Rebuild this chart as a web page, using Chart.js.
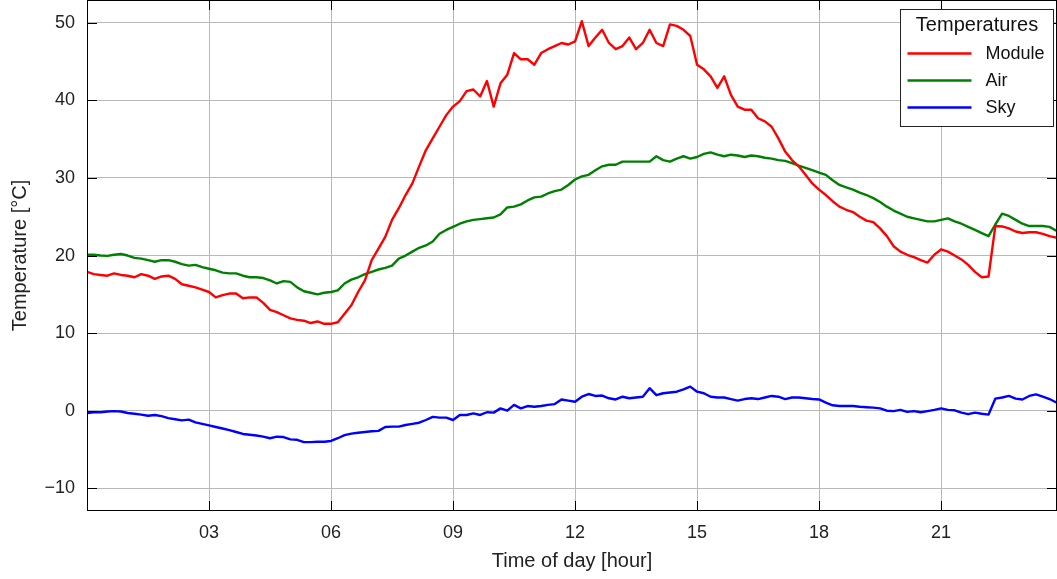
<!DOCTYPE html>
<html>
<head>
<meta charset="utf-8">
<title>Temperatures</title>
<script src="https://cdn.jsdelivr.net/npm/chart.js@4.4.1/dist/chart.umd.min.js"></script>
<style>
html, body { margin: 0; padding: 0; background: #fff; }
</style>
</head>
<body>
<canvas id="tempChart" width="1057" height="579"></canvas>
<script>

// readings every 10 minutes, 00:00 .. 23:50
const moduleTemp = [
17.9, 17.6, 17.5, 17.4, 17.7, 17.5,
17.4, 17.2, 17.6, 17.4, 17.0, 17.3,
17.4, 17.0, 16.3, 16.1, 15.9, 15.6,
15.3, 14.6, 14.9, 15.1, 15.1, 14.5,
14.6, 14.6, 13.9, 13.0, 12.7, 12.3,
11.9, 11.7, 11.6, 11.3, 11.5, 11.2,
11.2, 11.4, 12.5, 13.6, 15.3, 16.8,
19.4, 20.9, 22.4, 24.6, 26.1, 27.8,
29.3, 31.5, 33.6, 35.1, 36.6, 38.1,
39.2, 39.9, 41.2, 41.4, 40.5, 42.5,
39.2, 42.2, 43.3, 46.1, 45.3, 45.3,
44.6, 46.1, 46.6, 47.0, 47.4, 47.2,
47.6, 50.2, 47.0, 48.1, 49.1, 47.4,
46.6, 47.0, 48.1, 46.6, 47.4, 49.1,
47.4, 47.0, 49.8, 49.6, 49.1, 48.3,
44.6, 44.0, 43.1, 41.6, 43.1, 40.7,
39.2, 38.8, 38.8, 37.7, 37.3, 36.6,
35.1, 33.4, 32.3, 31.5, 30.4, 29.3,
28.5, 27.8, 27.0, 26.3, 25.9, 25.6,
25.0, 24.5, 24.3, 23.5, 22.5, 21.2,
20.5, 20.1, 19.8, 19.4, 19.1, 20.1,
20.8, 20.5, 20.0, 19.5, 18.8, 17.9,
17.2, 17.3, 23.8, 23.75, 23.5, 23.1,
22.9, 23.0, 23.0, 22.8, 22.5, 22.3
];

const airTemp = [
20.1, 20.1, 20.0, 19.95, 20.1, 20.2,
20.0, 19.7, 19.6, 19.4, 19.2, 19.4,
19.4, 19.2, 18.9, 18.7, 18.8, 18.5,
18.3, 18.1, 17.8, 17.7, 17.7, 17.4,
17.2, 17.2, 17.1, 16.8, 16.4, 16.7,
16.6, 15.9, 15.4, 15.2, 15.0, 15.2,
15.3, 15.5, 16.4, 16.9, 17.2, 17.6,
17.9, 18.2, 18.4, 18.7, 19.6, 20.0,
20.5, 21.0, 21.3, 21.8, 22.8, 23.3,
23.7, 24.1, 24.4, 24.6, 24.7, 24.8,
24.9, 25.3, 26.2, 26.3, 26.6, 27.1,
27.5, 27.6, 28.0, 28.3, 28.5, 29.1,
29.8, 30.2, 30.4, 31.0, 31.5, 31.7,
31.7, 32.1, 32.1, 32.1, 32.1, 32.1,
32.8, 32.3, 32.1, 32.5, 32.8, 32.5,
32.7, 33.1, 33.3, 33.0, 32.8, 33.0,
32.9, 32.7, 32.9, 32.8, 32.6, 32.5,
32.3, 32.2, 31.9, 31.6, 31.3, 31.0,
30.7, 30.4, 29.7, 29.1, 28.8, 28.5,
28.1, 27.8, 27.4, 26.9, 26.3, 25.8,
25.4, 25.0, 24.8, 24.6, 24.4, 24.4,
24.6, 24.8, 24.4, 24.1, 23.7, 23.3,
22.9, 22.5, 24.0, 25.4, 25.1, 24.6,
24.1, 23.8, 23.8, 23.8, 23.7, 23.2
];

const skyTemp = [
-0.3, -0.2, -0.2, -0.1, -0.05, -0.1,
-0.3, -0.4, -0.5, -0.65, -0.55, -0.7,
-0.95, -1.1, -1.25, -1.15, -1.5, -1.7,
-1.9, -2.1, -2.3, -2.5, -2.75, -3.0,
-3.1, -3.2, -3.35, -3.55, -3.35, -3.4,
-3.7, -3.75, -4.05, -4.05, -4.0, -4.0,
-3.9, -3.55, -3.15, -2.95, -2.85, -2.75,
-2.65, -2.6, -2.1, -2.05, -2.05, -1.85,
-1.7, -1.55, -1.2, -0.8, -0.9, -0.9,
-1.2, -0.55, -0.55, -0.35, -0.55, -0.2,
-0.25, 0.3, 0.0, 0.75, 0.3, 0.6,
0.5, 0.6, 0.75, 0.85, 1.45, 1.3,
1.15, 1.8, 2.15, 1.9, 1.95, 1.6,
1.45, 1.8, 1.6, 1.7, 1.8, 2.9,
2.0, 2.25, 2.35, 2.45, 2.75, 3.1,
2.45, 2.25, 1.8, 1.7, 1.7, 1.5,
1.3, 1.5, 1.6, 1.5, 1.7, 1.9,
1.8, 1.5, 1.7, 1.7, 1.6, 1.5,
1.45, 1.05, 0.7, 0.6, 0.6, 0.6,
0.5, 0.45, 0.4, 0.3, 0.0, -0.05,
0.1, -0.15, -0.05, -0.2, -0.05, 0.1,
0.3, 0.1, 0.05, -0.25, -0.45, -0.25,
-0.4, -0.5, 1.55, 1.7, 1.9, 1.55,
1.45, 1.9, 2.1, 1.8, 1.5, 1.05
];

// time axis in hours
const hours = moduleTemp.map((_, i) => i / 6);

const xTickHours = [3, 6, 9, 12, 15, 18, 21];
const xTickLabels = ["03", "06", "09", "12", "15", "18", "21"];
const yTickValues = [-10, 0, 10, 20, 30, 40, 50];

const seriesNames = ["Module", "Air", "Sky"];
const seriesColors = ["#ff0000", "#008000", "#0000ff"];

const FONT = "'Liberation Sans', Arial, sans-serif";

function points(values){
return values.map((v, i) => ({x: hours[i], y: v}));
}


// black frame with inward tick marks on all four sides
const frameTicks = {
id: "frameTicks",
afterDatasetsDraw(chart){
const ctx = chart.ctx;
const a = chart.chartArea;
const xs = chart.scales.x, ys = chart.scales.y;
const len = 10;
ctx.save();
ctx.strokeStyle = "#000";
ctx.lineWidth = 1;
ctx.beginPath();
xs.ticks.forEach(t => {
const px = Math.round(xs.getPixelForValue(t.value)) + 0.5;
ctx.moveTo(px, a.bottom); ctx.lineTo(px, a.bottom - len);
ctx.moveTo(px, a.top); ctx.lineTo(px, a.top + len);
});
ys.ticks.forEach(t => {
const py = Math.round(ys.getPixelForValue(t.value)) + 0.5;
ctx.moveTo(a.left, py); ctx.lineTo(a.left + len, py);
ctx.moveTo(a.right, py); ctx.lineTo(a.right - len, py);
});
ctx.stroke();
ctx.strokeRect(Math.round(a.left) + 0.5, Math.round(a.top) + 0.5,
Math.round(a.right - a.left) - 1, Math.round(a.bottom - a.top) - 1);
ctx.restore();
}
};


// boxed legend with title, upper right inside the plot
const boxLegend = {
id: "boxLegend",
afterDraw(chart){
const ctx = chart.ctx;
const a = chart.chartArea;
const w = 153, h = 117;
const left = Math.round(a.right) - 156.5;
const top = Math.round(a.top) + 9.5;
ctx.save();
ctx.fillStyle = "#fff";
ctx.fillRect(left, top, w, h);
ctx.strokeStyle = "#222";
ctx.lineWidth = 1;
ctx.strokeRect(left, top, w, h);

ctx.fillStyle = "#111";
ctx.textBaseline = "middle";
ctx.textAlign = "center";
ctx.font = "20px " + FONT;
ctx.fillText("Temperatures", left + w / 2, top + 16);

ctx.font = "18px " + FONT;
ctx.textAlign = "left";
chart.data.datasets.forEach((ds, i) => {
const y = top + 44 + i * 27;
ctx.strokeStyle = ds.borderColor;
ctx.lineWidth = 2.4;
ctx.beginPath();
ctx.moveTo(left + 7, y);
ctx.lineTo(left + 71, y);
ctx.stroke();
ctx.fillText(ds.label, left + 85, y + 1);
});
ctx.restore();
}
};


const ctx = document.getElementById("tempChart");

new Chart(ctx, {
type: "line",
data: {
datasets: [
{label: seriesNames[0], data: points(moduleTemp), borderColor: seriesColors[0]},
{label: seriesNames[1], data: points(airTemp), borderColor: seriesColors[1]},
{label: seriesNames[2], data: points(skyTemp), borderColor: seriesColors[2]}
]
},
options: {
responsive: false,
animation: false,
layout: {padding: 0},
elements: {
point: {radius: 0},
line: {borderWidth: 2.4, tension: 0, borderJoinStyle: "round"}
},
plugins: {
legend: {display: false},
tooltip: {enabled: false}
},
scales: {
x: {
type: "linear",
min: 0,
max: 23.85,
afterFit: s => { s.height = 68; s.paddingLeft = 0; s.paddingRight = 0; },
afterBuildTicks: s => { s.ticks = xTickHours.map(v => ({value: v})); },
grid: {color: "#b8b8b8", lineWidth: 1, drawTicks: false},
border: {display: false},
ticks: {
padding: 11,
color: "#222",
font: {family: FONT, size: 18},
maxRotation: 0,
callback: (v, i) => xTickLabels[i]
},
title: {
display: true,
text: "Time of day [hour]",
color: "#222",
font: {family: FONT, size: 20},
padding: {top: 0, bottom: 6}
}
},
y: {
min: -12.93,
max: 52.94,
afterFit: s => { s.width = 87; s.paddingTop = 0; s.paddingBottom = 0; },
afterBuildTicks: s => { s.ticks = yTickValues.map(v => ({value: v})); },
grid: {color: "#b8b8b8", lineWidth: 1, drawTicks: false},
border: {display: false},
ticks: {
padding: 12,
color: "#222",
font: {family: FONT, size: 18},
callback: v => v < 0 ? "\u2212" + Math.abs(v) : String(v)
},
title: {
display: true,
text: "Temperature [°C]",
color: "#222",
font: {family: FONT, size: 20},
padding: {top: 8, bottom: 0}
}
}
}
},
plugins: [frameTicks, boxLegend]
});

</script>
</body>
</html>
